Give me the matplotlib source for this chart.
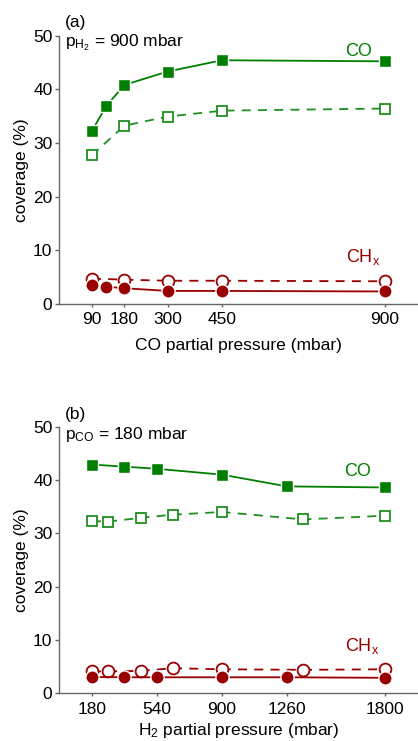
import matplotlib
matplotlib.use("Agg")
import matplotlib.pyplot as plt

plt.rcParams['font.family'] = ['Liberation Sans', 'DejaVu Sans']
plt.rcParams['mathtext.fontset'] = 'custom'
plt.rcParams['mathtext.rm'] = 'Liberation Sans'
plt.rcParams['mathtext.it'] = 'Liberation Sans'

GREEN = '#007f00'
GREEN_OPEN = '#1f8f1f'
RED = '#990000'

# (a) CO partial pressure series, p_H2 = 900 mbar
a_co_filled_x = [90, 130, 180, 300, 450, 900]
a_co_filled_y = [32.2, 36.9, 40.8, 43.3, 45.4, 45.2]
a_co_open_x = [90, 180, 300, 450, 900]
a_co_open_y = [27.7, 33.2, 34.9, 36.0, 36.4]
a_ch_open_x = [90, 180, 300, 450, 900]
a_ch_open_y = [4.7, 4.5, 4.3, 4.3, 4.2]
a_ch_filled_x = [90, 130, 180, 300, 450, 900]
a_ch_filled_y = [3.5, 3.2, 2.9, 2.4, 2.4, 2.3]
a_ticks = [90, 180, 300, 450, 900]

# (b) H2 partial pressure series, p_CO = 180 mbar
b_co_filled_x = [180, 360, 540, 900, 1260, 1800]
b_co_filled_y = [42.9, 42.5, 42.1, 41.0, 38.8, 38.6]
b_co_open_x = [180, 270, 450, 630, 900, 1350, 1800]
b_co_open_y = [32.3, 32.2, 32.9, 33.5, 34.0, 32.6, 33.3]
b_ch_open_x = [180, 270, 450, 630, 900, 1350, 1800]
b_ch_open_y = [4.1, 4.1, 4.2, 4.7, 4.5, 4.4, 4.5]
b_ch_filled_x = [180, 360, 540, 900, 1260, 1800]
b_ch_filled_y = [3.05, 3.0, 3.0, 3.0, 3.0, 2.9]
b_ticks = [180, 540, 900, 1260, 1800]

fig = plt.figure(figsize=(4.18, 7.41), dpi=100)
ax_a = fig.add_axes([0.142, 0.590, 0.856, 0.362])
ax_b = fig.add_axes([0.142, 0.0644, 0.856, 0.3598])


def draw(ax, cfx, cfy, cox, coy, hox, hoy, hfx, hfy):
    ax.plot(cox, coy, '--', color=GREEN_OPEN, lw=1.3, dashes=(5, 4),
            marker='s', ms=7.5, mfc='white', mec=GREEN_OPEN, mew=1.3, zorder=3)
    ax.plot(cfx, cfy, '-', color=GREEN, lw=1.3,
            marker='s', ms=9, mfc=GREEN, mec='white', mew=1.0, zorder=4)
    ax.plot(hox, hoy, '--', color=RED, lw=1.3, dashes=(5, 4),
            marker='o', ms=8.5, mfc='white', mec=RED, mew=1.3, zorder=3)
    ax.plot(hfx, hfy, '-', color=RED, lw=1.3,
            marker='o', ms=9.5, mfc=RED, mec='white', mew=1.0, zorder=4)
    ax.set_ylim(0, 50)
    ax.set_yticks([0, 10, 20, 30, 40, 50])
    for s in ['top', 'right']:
        ax.spines[s].set_visible(False)
    for s in ['left', 'bottom']:
        ax.spines[s].set_color('#666666')
        ax.spines[s].set_linewidth(1.0)
    ax.tick_params(axis='y', length=3, width=1, color='#666666',
                   labelsize=12.5, pad=2)
    ax.tick_params(axis='x', length=2, width=1, color='#666666',
                   labelsize=12.5, pad=4)
    ax.set_ylabel('coverage (%)', fontsize=12.5, labelpad=3)


draw(ax_a, a_co_filled_x, a_co_filled_y, a_co_open_x, a_co_open_y,
     a_ch_open_x, a_ch_open_y, a_ch_filled_x, a_ch_filled_y)
ax_a.set_xlim(0, 990)
ax_a.set_xticks(a_ticks)
ax_a.set_xlabel('CO partial pressure (mbar)', fontsize=12.5, labelpad=8)
ax_a.text(0.016, 1.047, '(a)', transform=ax_a.transAxes, fontsize=12.5,
          va='center', ha='left')
ax_a.text(0.016, 0.972, r'p$_{\mathregular{H_2}}$ = 900 mbar',
          transform=ax_a.transAxes, fontsize=12.5, va='center', ha='left')
ax_a.text(827, 47.0, 'CO', color=GREEN, fontsize=13, ha='center', va='center')
ax_a.text(841, 8.8, r'CH$_\mathregular{x}$', color=RED, fontsize=13,
          ha='center', va='center')

draw(ax_b, b_co_filled_x, b_co_filled_y, b_co_open_x, b_co_open_y,
     b_ch_open_x, b_ch_open_y, b_ch_filled_x, b_ch_filled_y)
ax_b.set_xlim(0, 1980)
ax_b.set_xticks(b_ticks)
ax_b.set_xlabel(r'H$_\mathregular{2}$ partial pressure (mbar)', fontsize=12.5,
                labelpad=3)
ax_b.text(0.016, 1.047, '(b)', transform=ax_b.transAxes, fontsize=12.5,
          va='center', ha='left')
ax_b.text(0.016, 0.972, r'p$_{\mathregular{CO}}$ = 180 mbar',
          transform=ax_b.transAxes, fontsize=12.5, va='center', ha='left')
ax_b.text(1651, 41.6, 'CO', color=GREEN, fontsize=13, ha='center', va='center')
ax_b.text(1673, 8.9, r'CH$_\mathregular{x}$', color=RED, fontsize=13,
          ha='center', va='center')

fig.savefig('out.png', dpi=100)
